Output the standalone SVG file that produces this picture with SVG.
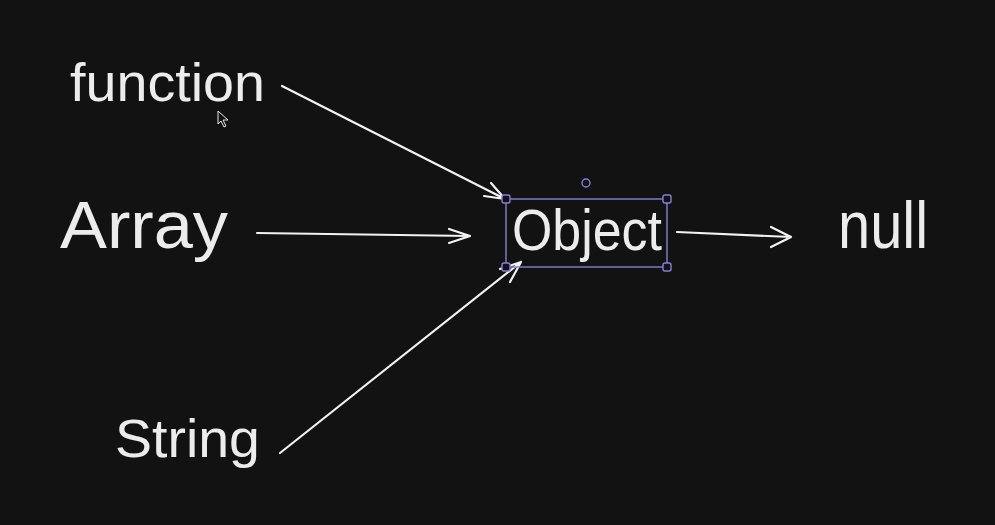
<svg xmlns="http://www.w3.org/2000/svg" width="995" height="525" viewBox="0 0 995 525">
  <defs>
    <style>
      .lbl { font-family: "Liberation Sans", Arial, sans-serif; fill: #ececec; }
      .edge { stroke: #f2f2f2; stroke-width: 2.2; fill: none; stroke-linecap: round; stroke-linejoin: round; }
      .sel { stroke: #857ed8; stroke-width: 1.4; fill: none; }
      .handle { stroke: #857ed8; stroke-width: 1.4; fill: #121212; }
    </style>
  </defs>
  <rect width="995" height="525" fill="#121212"/>

  <g id="connectors">
    <!-- function -> Object -->
    <path class="edge" d="M282 86 L505 199 M505 199 L484 196 M505 199 L491 183"/>
    <!-- Array -> Object -->
    <path class="edge" d="M257 233 L470 236 M470 236 L449 229 M470 236 L449 243"/>
    <!-- String -> Object -->
    <path class="edge" d="M280 453 L521 262 M521 262 L500 269 M521 262 L510 282"/>
    <!-- Object -> null -->
    <path class="edge" d="M677 232 L791 237 M791 237 L771 227 M791 237 L771 247"/>
  </g>

  <g id="node-function">
    <text class="lbl" x="70" y="101" font-size="53" textLength="195" lengthAdjust="spacingAndGlyphs">function</text>
  </g>
  <g id="node-array">
    <text class="lbl" x="60" y="248" font-size="67" textLength="168" lengthAdjust="spacingAndGlyphs">Array</text>
  </g>
  <g id="node-string">
    <text class="lbl" x="115" y="457" font-size="54" textLength="145" lengthAdjust="spacingAndGlyphs">String</text>
  </g>
  <g id="node-object">
    <text class="lbl" x="512" y="250" font-size="58" textLength="150" lengthAdjust="spacingAndGlyphs">Object</text>
    <rect class="sel" x="506" y="199" width="161" height="68"/>
    <rect class="handle" x="502" y="195" width="8" height="8" rx="2"/>
    <rect class="handle" x="663" y="195" width="8" height="8" rx="2"/>
    <rect class="handle" x="502" y="263" width="8" height="8" rx="2"/>
    <rect class="handle" x="663" y="263" width="8" height="8" rx="2"/>
    <circle class="handle" cx="586" cy="183" r="4"/>
  </g>
  <g id="node-null">
    <text class="lbl" x="838" y="248" font-size="66" textLength="90" lengthAdjust="spacingAndGlyphs">null</text>
  </g>

  <!-- mouse pointer -->
  <path d="M218 111 L218 124 L221 121 L224 127 L226 126 L223 120 L228 120 Z" fill="#121212" stroke="#e8e8e8" stroke-width="1"/>
</svg>
